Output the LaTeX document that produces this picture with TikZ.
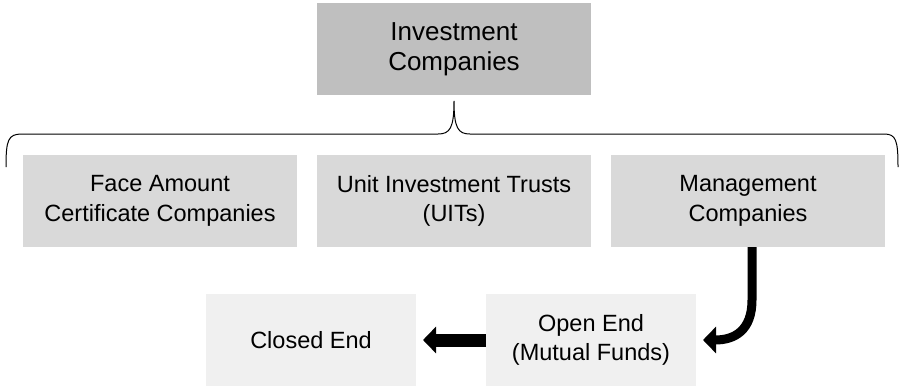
\documentclass[tikz,border=0pt]{standalone}
\usepackage{fontspec}
\setmainfont{Liberation Sans}
\usetikzlibrary{positioning,arrows.meta}
\definecolor{topgray}{HTML}{BFBFBF}
\definecolor{midgray}{HTML}{D9D9D9}
\definecolor{lowgray}{HTML}{F0F0F0}

\begin{document}
\begin{tikzpicture}[x=1pt,y=-1pt,
  every node/.style={inner sep=0pt,outer sep=0pt,align=center},
  topbox/.style={fill=topgray,minimum width=274pt,minimum height=92pt,font=\fontsize{26}{30}\selectfont},
  midbox/.style={fill=midgray,minimum width=274pt,minimum height=92pt,font=\fontsize{23.5}{29.5}\selectfont},
  lowbox/.style={fill=lowgray,minimum width=210pt,minimum height=92pt,font=\fontsize{23.5}{29.5}\selectfont},
  fatarrow/.style={-{Triangle[width=26pt,length=13pt]}}]
\useasboundingbox (0,0) rectangle (899,386);
\node[midbox] (uit) at (454,201) {Unit Investment Trusts\\(UITs)};
\node[midbox, left=20pt of uit] (face) {Face Amount\\Certificate Companies};
\node[midbox, right=20pt of uit] (mgmt) {Management\\Companies};
\node[topbox, above=60pt of uit] (inv) {Investment\\Companies};
\node[lowbox] (open) at (591,340) {Open End\\(Mutual Funds)};
\node[lowbox, left=70pt of open] (closed) {Closed End};

\coordinate (bl) at (6,167);
\coordinate (br) at (898,167);
\coordinate (tip) at ([yshift=-6pt]inv.south);
\draw[line width=1pt] (bl) .. controls (6,140) and (8,134) .. (22,134) -- (438,134)
  .. controls (450,134) and (454,128) .. (tip) .. controls (454,128) and (458,134) .. (470,134)
  -- (884,134) .. controls (896,134) and (898,140) .. (br);

\draw[fatarrow, line width=13pt, shorten >=7pt] (open.west) -- (closed.east);
\draw[fatarrow, line width=9pt] ([xshift=4pt]mgmt.south) -- (752,300)
  .. controls (752,330) and (735,340) .. ([xshift=7pt]open.east);
\end{tikzpicture}
\end{document}
